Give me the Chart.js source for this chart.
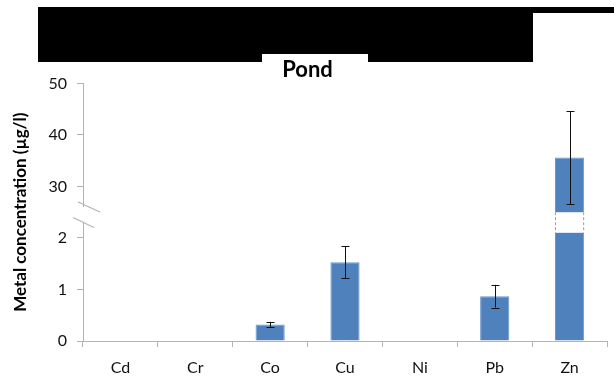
<!DOCTYPE html>
<html>
<head>
<meta charset="utf-8">
<script src="https://cdn.jsdelivr.net/npm/chart.js@4"></script>
<style>
  html, body { margin: 0; padding: 0; background: #fff; }
  #wrap { width: 614px; height: 382px; }
</style>
</head>
<body>
<div id="wrap"><canvas id="myChart" width="614" height="382"></canvas></div>
<script>
// values
const categories = ['Cd', 'Cr', 'Co', 'Cu', 'Ni', 'Pb', 'Zn'];
const means = [null, null, 0.32, 1.53, null, 0.87, 35.6];
const errors = [null, null, 0.05, 0.31, null, 0.22, 9.0];
const tickLabels = ['0', '1', '2', '30', '40', '50'];

// broken axis: 0-2 drawn as is, 30-50 squeezed on top (10 units per step)
function toAxis(v) {
  if (v === null) return null;
  return v < 5 ? v : 3 + (v - 30) / 10;
}

const barColor = '#4f81bd';
const axisColor = '#b3b3b3';
const barGap = [2.1, 2.5];     // white band cut out of the tall bar
const axisGap = [2.3, 2.6];    // hole in the y axis line

const breakPlugin = {
  id: 'breaks',
  afterDatasetsDraw(chart) {
    const ctx = chart.ctx;
    const y = chart.scales.y;
    const meta = chart.getDatasetMeta(0);

    // cut the tall bar
    meta.data.forEach((bar, i) => {
      if (means[i] === null || means[i] < 5) return;
      const half = bar.width / 2;
      const top = y.getPixelForValue(barGap[1]);
      const bot = y.getPixelForValue(barGap[0]);
      ctx.save();
      ctx.fillStyle = '#fff';
      ctx.fillRect(bar.x - half - 1, top, bar.width + 2, bot - top);
      ctx.strokeStyle = '#7fa3d1';
      ctx.lineWidth = 1;
      ctx.setLineDash([3, 2]);
      ctx.beginPath();
      ctx.moveTo(bar.x - half + 0.5, top); ctx.lineTo(bar.x - half + 0.5, bot);
      ctx.moveTo(bar.x + half - 0.5, top); ctx.lineTo(bar.x + half - 0.5, bot);
      ctx.stroke();
      ctx.restore();
    });

    // error bars
    ctx.save();
    ctx.strokeStyle = '#111';
    ctx.lineWidth = 1;
    meta.data.forEach((bar, i) => {
      if (means[i] === null || !errors[i]) return;
      const hi = y.getPixelForValue(toAxis(means[i] + errors[i]));
      const lo = y.getPixelForValue(toAxis(means[i] - errors[i]));
      const x = Math.round(bar.x) + 0.5;
      ctx.beginPath();
      ctx.moveTo(x, hi); ctx.lineTo(x, lo);
      ctx.moveTo(x - 4, Math.round(hi) + 0.5); ctx.lineTo(x + 4, Math.round(hi) + 0.5);
      ctx.moveTo(x - 4, Math.round(lo) + 0.5); ctx.lineTo(x + 4, Math.round(lo) + 0.5);
      ctx.stroke();
    });
    ctx.restore();
  },
  afterDraw(chart) {
    const ctx = chart.ctx;
    const y = chart.scales.y;
    const left = chart.chartArea.left;
    const gTop = y.getPixelForValue(axisGap[1]);
    const gBot = y.getPixelForValue(axisGap[0]);

    ctx.save();
    ctx.fillStyle = '#fff';
    ctx.fillRect(left - 3, gTop, 6, gBot - gTop);
    ctx.strokeStyle = axisColor;
    ctx.lineWidth = 1.2;
    ctx.beginPath();
    ctx.moveTo(left - 5, gTop - 5); ctx.lineTo(left + 17, gTop + 5);
    ctx.moveTo(left - 10, gBot - 5); ctx.lineTo(left + 11, gBot + 5);
    ctx.stroke();

    // black boxes over the header
    ctx.fillStyle = '#000';
    ctx.beginPath();
    ctx.moveTo(38, 7); ctx.lineTo(614, 7); ctx.lineTo(614, 13);
    ctx.lineTo(533, 13); ctx.lineTo(533, 62); ctx.lineTo(368, 62);
    ctx.lineTo(368, 54); ctx.lineTo(262, 54); ctx.lineTo(262, 62);
    ctx.lineTo(38, 62); ctx.closePath();
    ctx.fill();
    ctx.restore();
  }
};

const data = {
  labels: categories,
  datasets: [{
    label: 'Pond',
    data: means.map(toAxis),
    backgroundColor: barColor,
    borderColor: '#6b96cb',
    borderWidth: 1,
    categoryPercentage: 1.0,
    barPercentage: 0.39
  }]
};

const config = {
  type: 'bar',
  data: data,
  plugins: [breakPlugin],
  options: {
    responsive: false,
    animation: false,
    layout: { padding: { left: 8, right: 7, top: 0, bottom: 0 } },
    plugins: {
      legend: { display: false },
      tooltip: { enabled: false },
      title: {
        display: true,
        text: 'Pond',
        color: '#000',
        font: { family: 'Lato', size: 22, weight: 'bold' },
        padding: { top: 57, bottom: 0 }
      }
    },
    scales: {
      x: {
        afterFit: (s) => { s.height = 41; },
        grid: { offset: true, drawOnChartArea: false, tickLength: 6, color: axisColor },
        border: { display: true, color: axisColor },
        ticks: { color: '#111', padding: 11, font: { family: 'Lato', size: 16 } }
      },
      y: {
        min: 0,
        max: 5,
        afterFit: (s) => { s.width = 75; },
        grid: { drawOnChartArea: false, tickLength: 6, color: axisColor },
        border: { display: true, color: axisColor },
        ticks: {
          stepSize: 1,
          color: '#111',
          padding: 10,
          font: { family: 'Lato', size: 16 },
          callback: (v) => tickLabels[v]
        },
        title: {
          display: true,
          text: 'Metal concentration (µg/l)',
          color: '#000',
          font: { family: 'Lato', size: 17, weight: 'bold' },
          padding: { top: 2, bottom: 0 }
        }
      }
    }
  }
};

const myChart = new Chart(document.getElementById('myChart').getContext('2d'), config);
</script>
</body>
</html>
